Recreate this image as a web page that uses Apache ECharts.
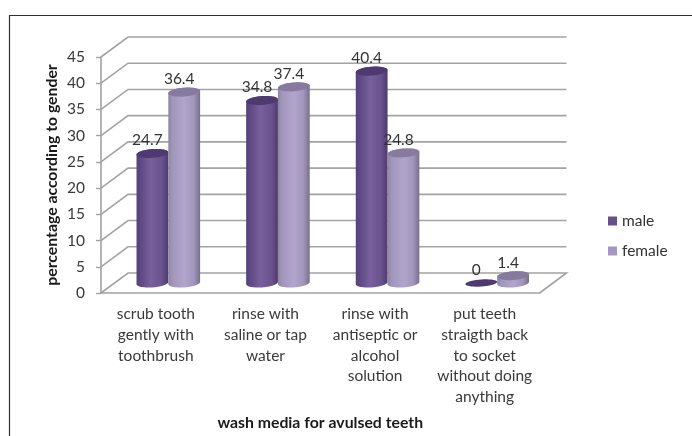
<!DOCTYPE html>
<html>
<head>
<meta charset="utf-8">
<style>html,body{margin:0;padding:0;background:#fff}#chart{width:692px;height:436px}</style>
<script src="https://cdn.jsdelivr.net/npm/echarts@6/dist/echarts.min.js"></script>
</head>
<body>
<div id="chart"></div>
<script>
// Wash media for avulsed teeth, percentage by gender
const categories = [
  'scrub tooth\ngently with\ntoothbrush',
  'rinse with\nsaline or tap\nwater',
  'rinse with\nantiseptic or\nalcohol\nsolution',
  'put teeth\nstraigth back\nto socket\nwithout doing\nanything'
];
const male = [24.7, 34.8, 40.4, 0];
const female = [36.4, 37.4, 24.8, 1.4];
const yTicks = [0, 5, 10, 15, 20, 25, 30, 35, 40, 45];

const FONT = 'Lato';
const WALL = '#a3a3a3';
// Oblique projection of the chart box: how far the back wall sits from the front plane
const DEPTH = [27, -20];
const MID = [12.5, -10];
const BAR_SHARE = 0.29;
const { LinearGradient } = echarts.graphic;

const maleBody = new LinearGradient(0, 0, 1, 0, [
  { offset: 0, color: '#54407a' }, { offset: 0.45, color: '#78609c' },
  { offset: 0.8, color: '#69528e' }, { offset: 1, color: '#4d3a6e' }
]);
const femaleBody = new LinearGradient(0, 0, 1, 0, [
  { offset: 0, color: '#8d84a0' }, { offset: 0.12, color: '#a195ba' },
  { offset: 0.5, color: '#b2a5cc' }, { offset: 0.8, color: '#a396bd' },
  { offset: 1, color: '#77708c' }
]);

// One oblique grid line per tick: along the left wall, then across the back wall
function renderWall(params, api) {
  const v = api.value(1);
  const band = api.size([1, 0])[0];
  const left = api.coord([0, v]);
  const right = api.coord([categories.length - 1, v]);
  const x0 = left[0] - band / 2, x1 = right[0] + band / 2, y = left[1];
  const points = [[x0, y], [x0 + DEPTH[0], y + DEPTH[1]], [x1 + DEPTH[0], y + DEPTH[1]]];
  if (v === 0) points.push([x1, y]);
  return { type: 'polyline', shape: { points }, style: { fill: null, stroke: WALL, lineWidth: 1.6 } };
}

function ellipsePoints(cx, cy, rx, ry, from, to) {
  const pts = [];
  for (let i = 0; i <= 36; i++) {
    const t = (from + (to - from) * i / 36) * Math.PI / 180;
    const dx = rx * Math.cos(t);
    pts.push([cx + dx, cy + ry * Math.sin(t) - dx * 0.07]);
  }
  return pts;
}

// A cylinder standing mid-depth on the floor, with its value label beside the cap
function cylinder(side, body, cap) {
  return function (params, api) {
    const i = api.value(0), v = api.value(1);
    const w = api.size([1, 0])[0] * BAR_SHARE;
    const rx = w / 2, ry = 4.4;
    const base = api.coord([i, 0]), top = api.coord([i, v]);
    const cx = base[0] + side * rx + MID[0];
    const by = base[1] + MID[1], ty = top[1] + MID[1];
    const children = [];
    if (v > 0) {
      children.push({
        type: 'polygon',
        shape: { points: ellipsePoints(cx, by, rx, ry, 0, 180).concat(ellipsePoints(cx, ty, rx, ry, 180, 360)) },
        style: { fill: body }
      });
    }
    children.push({
      type: 'polygon',
      shape: { points: ellipsePoints(cx, ty, rx, v > 0 ? ry : ry * 0.8, 0, 360) },
      style: { fill: cap }
    });
    children.push({
      type: 'text', z2: 10,
      style: {
        text: String(v), x: cx - 5, y: ty - 13, align: 'center', verticalAlign: 'middle',
        fontFamily: FONT, fontSize: 15.5, fill: '#333333'
      }
    });
    return { type: 'group', children };
  };
}

const chart = echarts.init(document.getElementById('chart'), null, { renderer: 'canvas' });
chart.setOption({
  animation: false,
  backgroundColor: '#ffffff',
  textStyle: { fontFamily: FONT },
  graphic: [{
    type: 'polyline', silent: true,
    shape: { points: [[9.5, 436], [9.5, 15.5], [692, 15.5]] },
    style: { fill: null, stroke: '#2e2e2e', lineWidth: 1.2 }
  }],
  grid: { left: 101, right: 152.5, top: 57, bottom: 142.5 },
  legend: {
    orient: 'vertical', left: 608, top: 213, padding: 0, itemWidth: 9, itemHeight: 9, itemGap: 14,
    icon: 'rect', data: ['male', 'female'],
    textStyle: { fontFamily: FONT, fontSize: 15.5, color: '#333333' }
  },
  xAxis: {
    type: 'category', data: categories,
    name: 'wash media for avulsed teeth', nameLocation: 'middle', nameGap: 122, nameMoveOverlap: false,
    nameTextStyle: { fontFamily: FONT, fontSize: 15.8, fontWeight: 'bold', color: '#1a1a1a' },
    axisLine: { lineStyle: { color: WALL, width: 1.6 } },
    axisTick: { alignWithLabel: false, length: 5, lineStyle: { color: WALL, width: 1.4 } },
    axisLabel: { interval: 0, margin: 11, fontFamily: FONT, fontSize: 15.5, lineHeight: 20.7, color: '#3a3a3a' },
    splitLine: { show: false }
  },
  yAxis: {
    type: 'value', min: 0, max: 45, interval: 5,
    name: 'percentage according to gender', nameLocation: 'middle', nameGap: 41, nameMoveOverlap: false,
    nameTextStyle: { fontFamily: FONT, fontSize: 15.8, fontWeight: 'bold', color: '#1a1a1a' },
    axisLine: { show: true, lineStyle: { color: WALL, width: 1.6 } },
    axisTick: { show: true, length: 5, lineStyle: { color: WALL, width: 1.4 } },
    axisLabel: { margin: 16, fontFamily: FONT, fontSize: 15.5, color: '#3a3a3a', formatter: v => yTicks.includes(v) ? String(v) : '' },
    splitLine: { show: false }
  },
  series: [
    {
      type: 'custom', silent: true, clip: false, z: 1,
      renderItem: renderWall,
      data: yTicks.map(v => [0, v]),
      encode: { x: 0, y: 1 }
    },
    {
      name: 'male', type: 'custom', silent: true, clip: false, z: 2,
      itemStyle: { color: '#65508a' },
      renderItem: cylinder(-1, maleBody, '#4e3a70'),
      data: male.map((v, i) => [i, v]),
      encode: { x: 0, y: 1 }
    },
    {
      name: 'female', type: 'custom', silent: true, clip: false, z: 3,
      itemStyle: { color: '#a597c4' },
      renderItem: cylinder(1, femaleBody, '#867a9e'),
      data: female.map((v, i) => [i, v]),
      encode: { x: 0, y: 1 }
    }
  ]
});
</script>
</body>
</html>
